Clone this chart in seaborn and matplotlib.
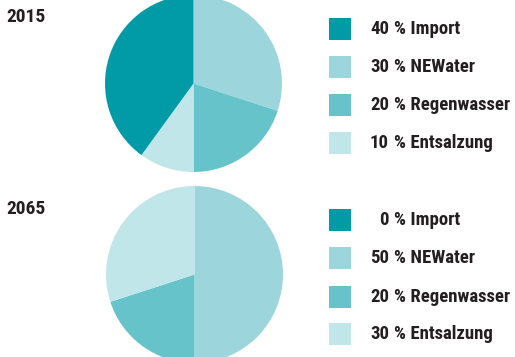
import matplotlib
matplotlib.use("Agg")
import matplotlib.pyplot as plt
import seaborn as sns
from matplotlib.patches import Rectangle

sns.set_theme(style="white")
plt.rcParams['font.family'] = ['Roboto Condensed', 'Liberation Sans Narrow', 'Roboto', 'DejaVu Sans']

categories = ["Import", "NEWater", "Regenwasser", "Entsalzung"]
colors = ["#019ba8", "#9cd6dc", "#67c3ca", "#c0e6e9"]
years = ["2015", "2065"]
values_2015 = [40, 30, 20, 10]
values_2065 = [0, 50, 20, 30]
all_values = [values_2015, values_2065]

# drawing order (clockwise from 12 o'clock)
draw_order = [1, 2, 3, 0]

W, H = 515, 357
fig = plt.figure(figsize=(W / 100, H / 100), dpi=100)

pie_boxes = [(105, -5, 177), (106, 186, 177)]  # left, top, size in px
for (lx, ty, s), vals in zip(pie_boxes, all_values):
    ax = fig.add_axes([lx / W, 1 - (ty + s) / H, s / W, s / H])
    v = [vals[i] for i in draw_order]
    c = [colors[i] for i in draw_order]
    ax.pie(v, colors=c, startangle=90, counterclock=False, radius=1,
           wedgeprops=dict(linewidth=0))
    ax.set_xlim(-1.0, 1.0)
    ax.set_ylim(-1.0, 1.0)
    ax.set_aspect('auto')
    ax.axis('off')

lg = fig.add_axes([0, 0, 1, 1])
lg.set_xlim(0, W)
lg.set_ylim(H, 0)
lg.axis('off')
lg.patch.set_alpha(0)

text_color = "#231f20"
fs = 13.5
year_y = [17, 209]
row_y = [[29, 67, 105, 143], [220, 258, 297, 334]]
for yi, (yr, vals) in enumerate(zip(years, all_values)):
    lg.text(6.5, year_y[yi], yr, fontsize=14, fontweight='bold', color=text_color,
            ha='left', va='center')
    for k, (cat, val) in enumerate(zip(categories, vals)):
        y = row_y[yi][k]
        lg.add_patch(Rectangle((329, y - 11), 22, 22, facecolor=colors[k], edgecolor='none'))
        lg.text(389, y, f"{val}", fontsize=fs, fontweight='bold', color=text_color,
                ha='right', va='center')
        lg.text(393.5, y, f"% {cat}", fontsize=fs, fontweight='bold', color=text_color,
                ha='left', va='center')

fig.savefig("out.png", dpi=100)
